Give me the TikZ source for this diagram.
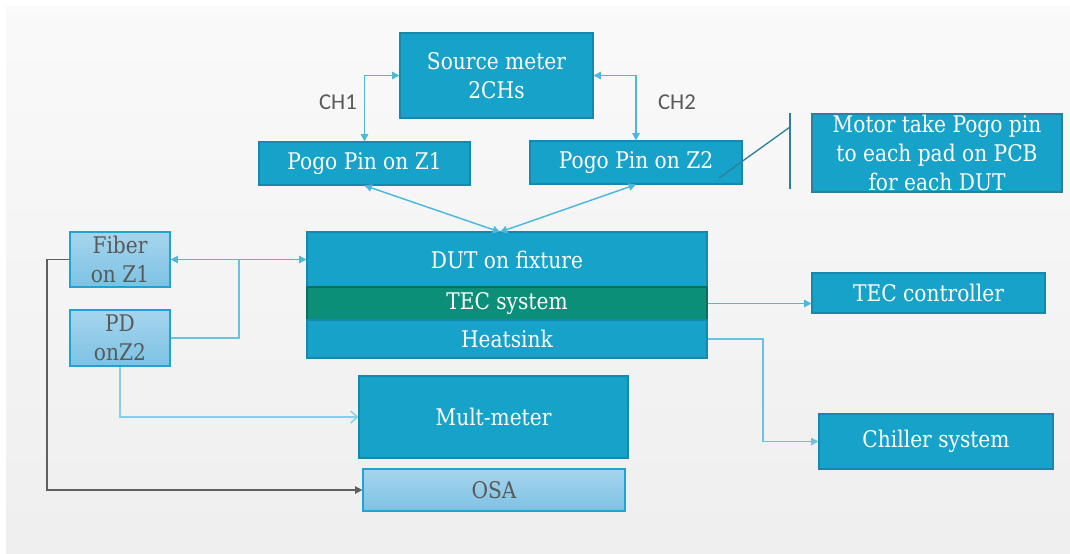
\documentclass[tikz,border=0pt]{standalone}
\usepackage{fontspec}
\setmainfont{DejaVu Serif}[FakeStretch=0.88]
\newfontfamily\chfont{Carlito}
\usetikzlibrary{arrows.meta,calc}
\definecolor{boxblue}{HTML}{17A2C9}
\definecolor{boxedge}{HTML}{1489AC}
\definecolor{tecgreen}{HTML}{0C8F79}
\definecolor{tecedge}{HTML}{0A6F5E}
\definecolor{lnblue}{HTML}{4DB8DE}
\definecolor{lnlight}{HTML}{86CFEA}
\definecolor{lbtop}{HTML}{A6D5EE}
\definecolor{lbbot}{HTML}{7CC2E3}
\definecolor{lbedge}{HTML}{1FA3D6}
\definecolor{graytxt}{HTML}{5A5A5A}
\definecolor{darkline}{HTML}{5F5F5F}
\definecolor{motorline}{HTML}{2C8199}
\definecolor{panel}{HTML}{F6F6F6}
\tikzset{
  sz/.style 2 args={minimum width=#1*0.75pt, minimum height=#2*0.75pt},
  mbox/.style={draw=boxedge, fill=boxblue, line width=0.8pt, text=white, inner sep=0pt,
     font=\fontsize{17.2}{21.5}\selectfont, align=center},
  gbox/.style={mbox, draw=tecedge, fill=tecgreen},
  lbox/.style={draw=lbedge, line width=0.9pt, top color=lbtop, bottom color=lbbot, text=graytxt,
     inner sep=0pt, font=\fontsize{17.2}{21.5}\selectfont, align=center},
  conn/.style={draw=lnblue, line width=1.1pt},
  tip/.style={-{Triangle[length=5.5pt,width=5.5pt]}},
  dtip/.style={{Triangle[length=5.5pt,width=5.5pt]}-{Triangle[length=5.5pt,width=5.5pt]}},
  chlab/.style={text=graytxt, font=\chfont\fontsize{17}{20}\selectfont, inner sep=0pt}
}
\begin{document}
\begin{tikzpicture}[x=0.75pt,y=-0.75pt]
\useasboundingbox (0,0) rectangle (1070,553);
\fill[white] (0,0) rectangle (1070,553);
\shade[top color=white!40!panel, bottom color=panel!97!black] (6,6) rectangle (1070,553);

% nodes
\node[mbox, sz={193}{85}] (src) at (496.5,75.5) {Source meter\\2CHs};
\node[mbox, sz={211}{43}] (p1) at (364.5,163.5) {Pogo Pin on Z1};
\node[mbox, sz={212}{43}] (p2) at (636,162.5) {Pogo Pin on Z2};
\node[mbox, sz={250}{78}, draw=motorline] (motor) at (937,153) {Motor take Pogo pin\\to each pad on PCB\\for each DUT};
\node[mbox, sz={400}{55}] (dut) at (507,259.5) {DUT on fixture};
\node[gbox, sz={400}{33}] (tec) at (507,303.5) {TEC system};
\node[mbox, sz={400}{38}] (heat) at (507,339) {Heatsink};
\node[lbox, sz={100}{55}] (fiber) at (120,259.5) {Fiber\\on Z1};
\node[lbox, sz={100}{56}] (pd) at (120,338) {PD\\onZ2};
\node[mbox, sz={269}{82}] (mult) at (493.5,417) {Mult-meter};
\node[lbox, sz={262}{42}] (osa) at (494,490) {OSA};
\node[mbox, sz={233}{40}] (tecc) at (928.5,293) {TEC controller};
\node[mbox, sz={234}{55}] (chill) at (936,441.5) {Chiller system};

\node[chlab] (ch1) at (338,102) {CH1};
\node[chlab] (ch2) at (677,102) {CH2};

% coordinates
\coordinate (vt) at (790,113);
\coordinate (vb) at (790,189);
\coordinate (dg1) at (719,178);
\coordinate (dg2) at (790,127);
\coordinate (dm) at (500,232);
\coordinate (j) at (239,259.5);
\coordinate (lft) at (47,490);
\coordinate (cj) at (763,441.5);

% motor annotation lines
\draw[motorline, line width=1pt] (vt) -- (vb);
\draw[motorline, line width=1pt] (dg1) -- (dg2);

% connectors
\draw[conn, dtip] (src.west) -| (p1.north);
\draw[conn, dtip] (src.east) -| (p2.north);
\draw[conn, dtip] (p1.south) -- (dm);
\draw[conn, dtip] (p2.south) -- (dm);
\draw[conn, dtip] (fiber.east) -- (dut.west);
\draw[conn, draw=lnblue!85] (pd.east) -| (j);
\draw[draw=lnlight, line width=1.1pt, -{Straight Barb[length=5pt,width=9pt]}] (pd.south) |- (mult.west);
\draw[draw=darkline, line width=1.1pt, tip] (fiber.west) -| (lft) -- (osa.west);
\draw[conn, tip] (tec.east) -- (tec.east -| tecc.west);
\draw[conn, draw=lnblue!85, tip] (heat.east) -| (cj) -- (chill.west);
\end{tikzpicture}
\end{document}
